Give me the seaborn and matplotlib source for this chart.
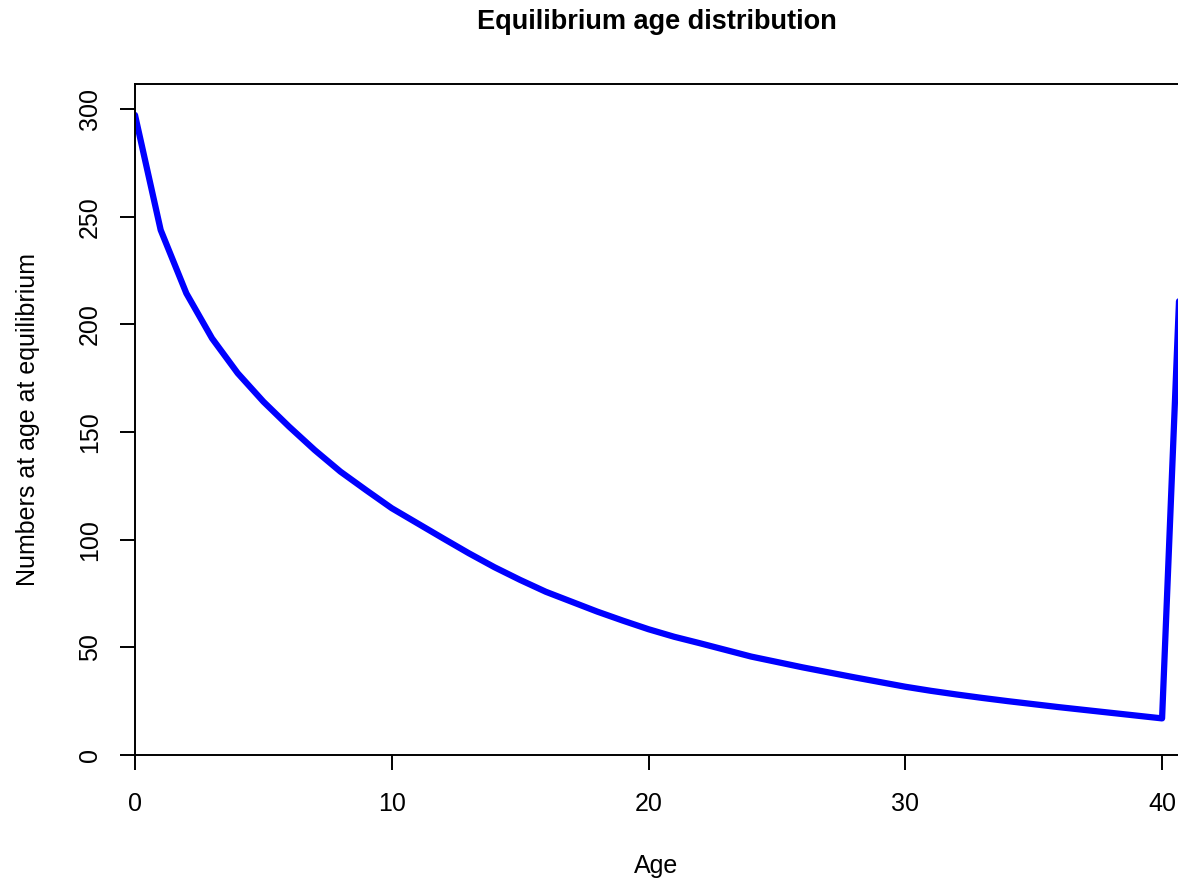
import numpy as np
import pandas as pd
import matplotlib
matplotlib.use("Agg")
import matplotlib.pyplot as plt
import seaborn as sns

# Ålder 0..41 (41 = plusgrupp) och antal vid jämvikt
ages = list(range(0, 42))
numbers = [
    297.2, 243.8, 214.4, 193.5, 177.3, 164.1, 152.5, 141.6, 131.6, 123.0,
    114.6, 107.6, 100.6, 93.7, 87.2, 81.3, 75.8, 71.2, 66.6, 62.4,
    58.4, 54.9, 51.9, 48.8, 45.7, 43.2, 40.7, 38.4, 36.1, 33.9,
    31.7, 29.8, 28.1, 26.5, 25.0, 23.6, 22.2, 20.9, 19.6, 18.3,
    17.0, 311.0,
]
x_ticks = [0, 10, 20, 30, 40]
y_ticks = [0, 50, 100, 150, 200, 250, 300]

df = pd.DataFrame({"Age": ages, "Numbers": numbers})

sns.set_theme(style="white")
plt.rcParams["font.family"] = ["Liberation Sans", "DejaVu Sans"]

fig = plt.figure(figsize=(11.78, 8.86), dpi=100)
ax = fig.add_axes([135 / 1178, 1 - 755 / 886, 1 - 135 / 1178, (755 - 84) / 886])

sns.lineplot(data=df, x="Age", y="Numbers", color="#0000ff", linewidth=4.5, ax=ax)

ax.set_xlim(0, 40.62)
ax.set_ylim(0, 311.6)
ax.set_xticks(x_ticks)
ax.set_yticks(y_ticks)

# Axlar i R-stil
for side in ["left", "top", "bottom"]:
    ax.spines[side].set_visible(True)
    ax.spines[side].set_color("black")
    ax.spines[side].set_linewidth(1.4)
ax.spines["right"].set_visible(False)

ax.tick_params(axis="both", direction="out", length=10.8, width=1.4, color="black",
               labelsize=18, labelcolor="black")
ax.tick_params(axis="x", bottom=True, top=False, pad=16)
ax.tick_params(axis="y", left=True, right=False, pad=13)
for lbl in ax.get_yticklabels():
    lbl.set_rotation(90)
    lbl.set_va("center")

ax.set_xlabel("Age", fontsize=18, color="black")
ax.set_ylabel("Numbers at age at equilibrium", fontsize=18, color="black")
ax.xaxis.set_label_coords(0.5, (755 - 866) / 671)
ax.xaxis.label.set_va("center")
ax.yaxis.set_label_coords((28 - 135) / 1043, 0.5)
ax.yaxis.label.set_va("center")

ax.set_title("Equilibrium age distribution", fontsize=19.5, fontweight="bold",
             color="black", y=1 + (84 - 22) / 671, pad=0, va="center")

fig.savefig("out.png", dpi=100, facecolor="white")
